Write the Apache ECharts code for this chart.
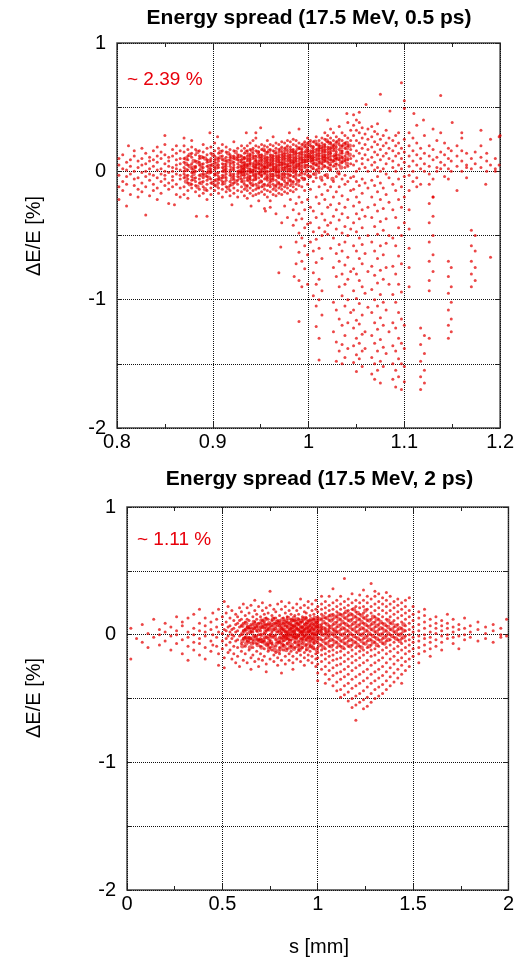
<!DOCTYPE html>
<html>
<head>
<meta charset="utf-8">
<script src="https://cdn.jsdelivr.net/npm/echarts@6/dist/echarts.min.js"></script>
<style>html,body{margin:0;padding:0;background:#fff}#c{width:517px;height:957px}</style>
</head>
<body>
<div id="c"></div>
<script>
// ---- texts ----
const titles = ['Energy spread (17.5 MeV, 0.5 ps)', 'Energy spread (17.5 MeV, 2 ps)'];
const notes = ['~ 2.39 %', '~ 1.11 %'];
const yName = 'ΔE/E [%]';
const xName = 's [mm]';
const xRangeTop = [0.8, 1.2, 0.1];
const xRangeBottom = [0, 2, 0.5];
const yRange = [-2, 1, 0.5];

// ---- top panel data: [s (mm), dE/E values (%) ...] ----
const topCols = [
[0.802,.05,-.03,-.12,.10,-.22],[0.806,.02,-.08,.13,-.15],[0.810,-.04,.07,-.27,.01,-.10],[0.814,.09,-.02,-.18,.04],
[0.818,-.06,.12,.00,-.11,.16],[0.822,.03,-.14,.08,-.05,-.20],[0.826,-.01,.10,-.09,.05,-.16,.18],[0.830,.06,-.04,-.12,.14,.00],
[0.834,-.07,.02,.11,-.19,.08,-.02],[0.838,.04,-.10,.16,-.03,.09,-.15],[0.842,-.05,.07,.01,-.13,.19,-.22,.12],[0.846,.02,-.08,.10,-.02,.15,-.17],
[0.850,-.03,.06,-.11,.13,.00,-.06,.21],[0.854,.08,-.01,-.14,.04,.11,-.09,-.25],[0.858,-.04,.03,.12,-.07,.17,-.12,.00],
[0.862,.05,-.10,.09,-.02,.14,-.18,.02,.20],[0.866,-.06,.01,.10,-.13,.06,-.03,.16,-.20],
[0.870,.03,-.05,.10,-.12,.15,-.02,.07,-.18,.20,.00],[0.874,-.03,.05,-.09,.12,-.15,.01,.09,-.06,.17,-.21],
[0.878,.02,-.07,.11,-.01,.06,-.13,.14,-.04,.19,-.10,.24],[0.882,-.05,.04,-.11,.08,.00,.13,-.16,.03,-.08,.17],
[0.886,.01,-.03,.07,-.09,.12,-.14,.05,-.19,.16,-.06,.10],[0.890,-.02,.06,-.08,.03,.11,-.12,.15,-.05,.00,-.17,.21],
[0.894,.04,-.04,.09,-.10,.13,-.01,.07,-.15,.18,-.07,-.22],[0.898,-.01,.02,-.06,.10,-.13,.05,.14,-.09,.00,.19,-.18,.08],
[0.902,.03,-.03,.07,-.11,.12,-.07,.01,.16,-.15,.09,-.02,.22],[0.906,-.04,.05,-.09,.10,-.01,.14,-.13,.03,-.17,.08,.18,-.06],
[0.910,.00,-.05,.06,-.10,.12,.03,-.14,.16,-.03,.09,-.20,.21,-.08],[0.914,.02,-.02,.08,-.07,.11,-.12,.04,.15,-.16,.00,-.05,.19,.06],
[0.918,-.03,.04,-.08,.09,.01,-.11,.13,-.15,.06,.17,-.01,-.19,.11],[0.922,.01,-.04,.07,-.09,.12,-.02,.05,-.13,.16,.10,-.17,.03,-.06,.23],
[0.926,-.02,.03,-.07,.09,.00,.13,-.10,.06,-.15,.18,-.04,.11,-.20],
[0.930,.02,-.03,.07,-.08,.12,-.12,.04,.16,-.01,.09,-.16,.20,-.06,.00],[0.933,-.01,.05,-.05,.10,-.10,.14,.01,-.14,.07,.18,-.03,-.19,.11,.03],
[0.936,.03,-.02,.08,-.07,.12,-.11,.05,.16,-.15,.00,.20,-.05,.10,-.21],[0.939,.00,.06,-.04,.09,-.09,.13,.02,-.13,.17,-.01,.07,-.17,.22,.11,-.06],
[0.942,.04,-.03,.10,-.07,.14,-.11,.01,.18,-.15,.06,-.01,.12,-.19,.24],[0.945,-.02,.03,.08,-.06,.12,-.10,.05,.16,-.14,.00,.20,-.04,.09,-.18,.26],
[0.948,.02,-.01,.06,-.05,.11,-.09,.15,.03,-.13,.19,-.02,.08,-.17,.13,-.23],[0.951,.05,-.04,.09,.00,-.08,.13,-.12,.17,.02,-.16,.07,.21,-.03,.11],
[0.954,.01,.04,-.02,.08,-.06,.12,-.10,.16,-.14,.03,.20,-.01,.10,-.18,.06,-.29],[0.957,.03,-.03,.07,-.07,.11,.00,-.11,.15,.05,-.15,.19,-.05,.09,.24,-.20],
[0.960,.00,.05,-.04,.09,-.08,.13,.02,-.12,.17,-.02,.07,-.16,.21,.11,-.06,-.23],[0.963,.04,-.02,.08,-.06,.12,.01,-.10,.16,-.14,.06,.20,-.04,.10,-.18,.03,.27],
[0.966,.02,.06,-.03,.10,-.07,.14,.00,-.11,.18,-.15,.04,.08,-.01,-.19,.22,.12],[0.969,.05,-.01,.09,-.05,.13,.02,-.09,.17,-.13,.07,.21,-.03,.11,-.17,.15,.00],
[0.972,.03,.07,-.02,.11,-.06,.15,.01,-.10,.19,-.14,.05,.09,.23,-.04,-.18,.13],[0.975,.06,.01,.10,-.04,.14,-.08,.18,.03,-.12,.08,.22,-.02,.12,-.16,.16,-.27],
[0.978,.04,.08,.00,.12,-.05,.16,-.09,.20,.02,-.13,.06,.10,-.02,.14,-.17,.24],[0.981,.07,.02,.11,-.03,.15,-.07,.19,.04,-.11,.09,.23,.00,.13,-.15,.17,-.22],
[0.984,.05,.09,.01,.13,-.04,.17,-.08,.21,.03,-.12,.07,.11,-.01,.15,-.16,.25,-.30,-.42],
[0.987,.08,.03,.12,-.02,.16,-.06,.20,.05,-.10,.10,.24,.00,.14,-.14,-.25,-.38,-.55,-.72],
[0.990,.06,.10,.02,.14,-.03,.18,-.07,.22,.04,-.11,.08,.12,-.20,-.33,-.48,-.63,-.85,-1.17],
[0.993,.09,.04,.13,-.01,.17,-.05,.21,.07,.11,.15,.01,-.12,-.24,-.37,-.52,-.70,-.90],
[0.996,.07,.11,.03,.15,.19,-.02,.23,.09,.13,-.06,.05,-.15,-.30,-.44,-.58,-.76],
[0.999,.10,.05,.14,.01,.18,.22,.08,.12,-.03,.16,.26,-.10,-.22,-.41,-.65,-.88],
[1.002,.08,.12,.04,.16,.20,.10,.00,.14,.24,-.04,-.14,-.28,-.40,-.55],
[1.005,.11,.06,.15,.02,.19,.09,.23,.13,-.02,.17,-.08,-.31,-.47,-.62,-.79,-.97],
[1.008,.09,.13,.05,.17,.21,.11,.01,.15,.27,-.05,-.20,-.36,-.53,-.71,-.88,-1.05,-1.21],
[1.011,.12,.07,.16,.03,.20,.10,.24,.14,-.01,.18,-.12,-.25,-.44,-.60,-.84,-1.00,-1.30,-1.47],
[1.014,.10,.14,.06,.18,.22,.12,.02,.16,.26,-.07,-.18,-.33,-.50,-.68,-.93,-1.12],
[1.017,.13,.08,.17,.04,.21,.11,.25,.15,-.03,.19,.30,-.10,-.22,-.38,-.47],
[1.020,.11,.15,.07,.19,.23,.13,.03,.17,.28,-.05,-.15,-.28,-.42,-.49],
[1.023,.14,.09,.18,.05,.22,.12,.26,.16,.01,.33,-.12,-.26,-.40,-.60],
[1.026,.12,.16,.08,.20,.24,.04,.18,.30,-.08,-.20,-.35,-.52,-.75,-1.02,-1.25],
[1.029,.15,.10,.19,.06,.23,.13,.27,.02,-.04,-.16,-.30,-.45,-.64,-.82,-1.08,-1.33,-1.48],
[1.032,.13,.17,.09,.21,.25,.05,.35,-.02,-.12,-.25,-.38,-.57,-.70,-.90,-1.15,-1.40],
[1.035,.16,.11,.20,.07,.24,.14,.30,-.06,-.19,-.33,-.48,-.62,-.80,-.97,-1.20,-1.35,-1.50],
[1.038,.12,.18,.08,.22,.03,.28,-.03,-.10,-.28,-.43,-.55,-.73,-.88,-1.05,-1.28,-1.45],
[1.041,.15,.09,.20,.26,.04,.38,-.08,-.22,-.36,-.50,-.67,-.84,-1.00,-1.18,-1.38],
[1.044,.10,.17,.06,.24,.32,-.05,-.15,-.45,-.78,-1.10],
[1.047,.12,.20,.28,.36,.44,.05,-.04,-.14,-.27,-.40,-.58,-.76,-.93,-1.08,-1.22,-1.36,-1.49],
[1.050,.08,.16,.24,.32,.40,.00,-.08,-.20,-.33,-.47,-.62,-.80,-.99,-1.16,-1.30,-1.43,-1.56],
[1.053,.14,.22,.30,.38,.46,.02,-.11,-.24,-.37,-.52,-.68,-.85,-1.03,-1.19,-1.34,-1.46],
[1.056,.10,.18,.26,.34,.06,-.06,-.17,-.30,-.44,-.57,-.72,-.90,-1.12,-1.27,-1.40,-1.52],
[1.059,.13,.21,.29,.03,-.09,-.35,-.64,-.95,-1.25,-1.38],
[1.062,.09,.17,.25,.33,.00,-.13,-.28,-.50,-.78,-1.06],
[1.066,.11,.19,.27,.35,.05,-.07,-.20,-.36,-.55,-.74,-.92,-1.10,-1.28,-1.45,-1.58],
[1.069,.07,.15,.23,.31,.01,-.11,-.26,-.43,-.62,-.81,-1.00,-1.18,-1.34,-1.50,-1.62],
[1.072,.13,.21,.29,.37,.03,-.04,-.16,-.31,-.49,-.68,-.87,-1.05,-1.23,-1.40,-1.55],
[1.075,.09,.17,.25,.60,.00,-.09,-.22,-.39,-.58,-.77,-.96,-1.14,-1.31,-1.48,-1.65],
[1.078,.12,.20,.28,.02,-.13,-.29,-.46,-.65,-.84,-1.02,-1.20,-1.37,-1.52],
[1.081,.06,.14,.22,.32,-.02,-.18,-.37,-.56,-.75,-1.08,-1.42],
[1.084,.10,.18,.26,-.05,-.24,-.50,-.88,-1.25],
[1.088,.08,.16,.24,.03,-.10,-.30,-.52,-.74,-.96,-1.18,-1.36,-1.50,-1.62],
[1.091,.12,.20,.28,.00,-.15,-.36,-.58,-.80,-1.02,-1.22,-1.40,-1.55,-1.68],
[1.094,.05,.14,.22,.30,-.06,-.22,-.44,-.66,-.88,-1.10,-1.30,-1.46,-1.60],
[1.097,.10,.18,.69,.02,-.12,-.28,-.50,-.72,-.94,-1.15,-1.34,-1.50,-1.70],
[1.100,.07,.15,.25,.49,.55,-.04,-.20,-.40,-1.20,-1.38,-1.52,-1.64],
[1.105,.04,.12,.20,.30,-.03,-.15,-.30,-.45,-.60,-.75,-.90],
[1.109,.08,.16,.26,.00,-.08],[1.113,.05,.13,.22,.36,-.05,-.12],
[1.117,.10,.18,.02,-.10,-1.22,-1.35,-1.48,-1.60,-1.70],[1.121,.06,.14,.28,.00,-1.28,-1.42,-1.55,-1.65],
[1.126,.04,.12,.20,-.02,-.10,-.25,-.40,-.55,-.70,-.85,-.93,-1.30],[1.130,.09,.17,.33,-.06,-.20,-.35,-.50,-.65,-.78],
[1.134,.03,.11,.24,.00],[1.138,.07,.15,.59,.30,.02],[1.142,.05,.13,.22,-.04],
[1.146,.02,.10,.18,-.06,-.70,-.82,-.95,-1.08,-1.20,-1.30],[1.149,.08,.16,.00,-.75,-.90,-1.02,-1.15,-1.25],
[1.155,.04,.12,.20],[1.160,.00,.08,.16,.26],[1.165,.05,.14,.03],
[1.170,.02,.10,-.46,-.58,-.70,-.80,-.90],[1.174,.06,.15,-.50,-.62,-.75,-.85],
[1.180,.03,.11,.20],[1.186,.00,.08,.14],[1.190,.05,-.67],[1.195,.02,.10,.00],[1.199,.27,.05],
// scattered outliers
[0.883,-.35],[0.894,-.35],[0.830,-.34],[0.897,.30],[0.935,.30],[0.945,.30],[0.980,.30],[0.966,-.33],[0.972,-.40],
[0.978,-.36],[0.971,-.59],[0.969,-.79],[0.985,-.82],[0.960,-.28],[0.955,-.31],[0.940,-.27],[0.920,-.26],[0.860,-.26],
[0.812,.20],[0.850,.28],[0.870,.26],[0.905,.27],[0.950,.34],[0.990,.33],[1.020,.40],[1.040,.45],[1.060,.52],[1.085,.47],
[1.110,.45],[1.120,.40],[1.150,.38],[1.160,.30],[1.180,.32],[1.130,-.20],[1.155,-.15],[1.165,-.05],[1.185,-.10],[1.190,.25],[1.200,.28]
];
// dense inner core of the top panel
const topCore = [
[0.872,.01,-.04,.06,-.08,.10],[0.880,-.02,.03,.08,-.06,.00],[0.888,.02,-.03,.05,-.09,.11],[0.896,-.01,.04,-.05,.08,.01],
[0.904,.03,-.02,.06,-.07,.10,-.11],[0.912,.00,.05,-.04,.09,-.09,.02],[0.920,.02,-.03,.07,-.06,.11,-.10],[0.928,-.01,.04,-.05,.08,.00,.12],
[0.932,.03,-.02,.06,-.08,.10,.01],[0.938,.01,.05,-.04,.09,-.07,.13],[0.944,.02,-.03,.07,-.06,.11,.04],[0.950,.00,.05,-.02,.09,-.08,.12],
[0.956,.03,-.01,.07,-.05,.10,.14],[0.962,.01,.06,-.03,.09,-.07,.12],[0.968,.04,.00,.08,-.04,.11,-.09],[0.974,.02,.06,-.02,.10,-.06,.13],
[0.980,.05,.01,.09,-.03,.12,-.07],[0.986,.03,.07,.00,.10,.14,-.04],[0.992,.06,.02,.10,.14,-.02,.18],[0.998,.04,.08,.12,.00,.16,.20],
[1.004,.07,.11,.03,.15,.19,.09],[1.010,.05,.09,.13,.01,.17,.21],[1.016,.08,.12,.04,.16,.20,.10],[1.022,.06,.10,.14,.02,.18,.22],
[1.028,.09,.13,.05,.17,.21,.11],[1.034,.07,.11,.15,.03,.19],[1.040,.10,.14,.06,.18,.22],
[0.876,-.10,.13,.04],[0.884,.07,-.12,.15],[0.892,-.03,.10,-.14],[0.900,.05,-.09,.13],[0.908,-.06,.11,.15],[0.916,.08,-.13,.14],
[0.924,-.08,.10,.15],[0.935,-.12,.15,.05],[0.941,.16,-.10,.00],[0.947,-.12,.15,.06],[0.953,.17,-.11,.03],[0.959,-.10,.16,.05],
[0.965,.15,-.12,.02],[0.971,-.11,.17,.06],[0.977,.18,-.10,.04],[0.983,-.09,.16,.07],[0.989,.18,-.08,.05],[0.995,.21,-.06,.08],
[1.001,.22,-.04,.12],[1.007,.23,.06,-.02],[1.013,.19,.07,-.05],[1.019,.24,.09,-.03],[1.025,.20,.08,-.06],[1.031,.23,.10,-.01],
[1.037,.21,.09],[1.043,.13,.20]
];

// ---- bottom panel data: [s (mm), dE/E values (%) ...] ----
const bottomCols = [
[0.02,.05,-.19],[0.05,-.03],[0.08,.08,-.06],[0.11,.01,-.10],[0.14,-.02,.12],[0.17,.04,-.08,.00],[0.20,-.05,.09,.02],
[0.23,.06,-.12,-.01],[0.26,.00,.14,-.07,.03],[0.29,-.04,.07,-.15,.10],[0.32,.02,-.09,.13,-.02,-.20],[0.35,-.06,.05,.16,-.12,.00],
[0.38,.03,-.03,.09,-.16,.20,-.07],[0.41,-.01,.07,-.10,.13,.02,-.19],
[0.44,.04,-.05,.10,-.13],[0.45,.17,.00,-.08],[0.47,-.02,.06,-.09,.12],[0.48,.02,-.15,.20,-.24],
[0.50,.01,-.05,.08,-.11,.14],[0.51,-.18,.04,.26,-.26],[0.52,-.03,.03,.10,-.08,.17],[0.53,-.14,.06,-.01,.22],
[0.54,.02,-.06,.07,-.12,.13],[0.55,.00,-.19,.19,.04,-.03],[0.56,-.01,.05,-.09,.11,-.15],[0.57,.16,.02,-.22,.08,-.05],
[0.58,.03,-.04,.09,-.10,.14,-.17],[0.59,.06,.21,-.01,-.25,.11],[0.60,.00,.07,-.07,.12,-.13,.18],[0.61,.03,-.20,.09,-.03,.24],
[0.62,.04,-.02,.10,-.09,.15,-.15],[0.63,.01,.21,-.22,.06,-.05,.12],[0.64,-.02,.05,-.06,.11,-.12,.17],[0.65,.02,-.18,.23,-.03,.08,-.27],
[0.66,.02,-.04,.08,-.10,.14,-.16],[0.67,.05,.19,-.01,-.21,.27,.10],[0.68,-.01,.06,-.07,.12,-.13,.16,.03],[0.69,-.19,.22,-.04,.09,-.25,.00],
[0.70,.03,-.03,.09,-.09,.14,-.15,.00],[0.71,.19,-.20,.06,-.06,.25,.11],[0.72,.01,.05,-.05,.10,-.11,.16,-.17],[0.73,.03,.21,-.23,.08,-.02,.13,-.29],
[0.74,-.03,.04,.08,-.08,.12,-.13,.17],[0.75,.00,-.19,.23,.06,-.04,.34,-.10],[0.76,.02,-.02,.07,-.07,.11,-.12,.15],[0.77,-.16,.04,.20,-.21,.09,-.01,.13],
[0.78,.00,.05,-.04,.09,-.09,.13,-.14,.18],[0.79,.02,-.18,.24,-.24,.07,-.06,.11],[0.80,.03,-.02,.07,-.06,.11,-.10,.15,-.15],[0.81,.01,.20,-.20,.05,-.03,.26,-.30],
[0.82,-.01,.04,-.05,.09,-.08,.13,-.12],[0.83,.17,.02,-.17,.22,-.01,.07,-.23],[0.84,.02,-.03,.06,-.07,.10,-.11,.14,.00],[0.85,-.15,.19,.04,-.20,.25,-.04,.09],
[0.86,.00,.05,-.04,.08,-.09,.12,-.13,.16],[0.87,.02,-.17,.21,-.22,.07,-.01,.11,-.27],[0.88,.03,-.02,.07,-.06,.11,-.10,.15,.01],[0.89,-.14,.19,-.19,.05,.24,-.03,.09],
[0.90,-.01,.04,-.05,.08,-.08,.12,-.12,.16],[0.91,.02,-.16,.21,.06,-.21,.28,-.03,.10],[0.92,.02,-.03,.06,-.07,.10,-.10,.14,.00],[0.93,-.14,.18,-.18,.04,.23,-.24,.08,-.01],
[0.94,.00,.05,-.04,.09,-.08,.13,-.12,.17],[0.95,.02,-.16,.21,-.20,.06,-.02,.11,.26],[0.96,.03,-.01,.07,-.05,.11,-.09,.15,-.13],[0.97,.01,.19,-.17,.05,.24,-.22,.09,-.03],
[0.98,.01,.04,-.03,.08,-.07,.12,-.11,.16],[0.99,.00,-.15,.20,-.19,.06,.27,-.25,.10],
[1.00,.02,-.02,.06,-.06,.10,-.10,.14,-.14,.03,.18,-.18,.22,-.23,.08,-.30,.12,-.36],
[1.02,.04,.00,.08,-.04,.12,-.08,.16,-.12,.20,-.16,.02,.24,-.21,.06,-.27,.30],
[1.04,.01,.05,-.03,.09,-.07,.13,-.11,.17,-.15,.21,-.19,.03,.26,-.25,-.31,-.38],
[1.06,.03,-.01,.07,-.05,.11,-.09,.15,-.13,.19,-.17,.23,-.22,.05,-.28,.30,-.35],
[1.08,.00,.04,-.04,.08,-.08,.12,-.12,.16,-.16,.20,-.20,.25,-.26,-.32,-.40,.36],
[1.10,.02,.06,-.02,.10,-.06,.14,-.10,.18,-.14,.22,-.19,.27,-.24,-.30,-.37,-.44],
[1.12,.04,.00,.08,-.05,.12,-.09,.16,-.13,.20,-.18,.24,-.23,.30,-.29,-.35,-.43,-.49],
[1.14,.01,.05,-.03,.09,-.07,.13,-.11,.17,-.16,.21,-.21,.26,-.27,-.33,-.40,-.47,.44],
[1.16,.03,-.01,.07,-.05,.11,-.09,.15,-.14,.19,-.19,.23,-.25,.28,-.31,-.38,-.45,-.52],
[1.18,.00,.04,-.04,.08,-.08,.12,-.12,.16,-.17,.20,-.22,.25,-.28,.32,-.35,-.42,-.50,-.57],
[1.20,.02,.06,-.02,.10,-.06,.14,-.10,.18,-.15,.22,-.20,.27,-.26,-.33,-.40,-.48,-.55,-.67],
[1.22,.04,.00,.08,-.04,.12,-.09,.16,-.13,.21,-.18,.25,-.24,.31,-.31,-.38,-.46,-.53],
[1.24,.01,.05,-.03,.09,-.07,.13,-.12,.17,-.16,.22,-.22,.27,-.29,.35,-.36,-.44,-.51,-.58],
[1.26,.03,-.01,.07,-.05,.11,-.10,.15,-.14,.20,-.20,.25,-.27,.30,-.34,-.41,-.49,-.56],
[1.28,.00,.04,-.04,.08,-.08,.12,-.12,.17,-.17,.22,-.24,.28,-.31,.40,-.38,-.46,-.53],
[1.30,.02,.06,-.02,.10,-.06,.14,-.11,.19,-.16,.24,-.22,.30,-.29,-.36,-.43,-.50,.34],
[1.32,.04,.00,.08,-.04,.12,-.09,.16,-.14,.21,-.20,.26,-.27,-.34,-.41,-.48,.32],
[1.34,.01,.05,-.03,.09,-.07,.14,-.12,.19,-.18,.24,-.25,.29,-.32,-.39,-.46],
[1.36,.03,-.01,.07,-.05,.12,-.10,.17,-.15,.22,-.22,.27,-.29,-.36,-.43,.33],
[1.38,.00,.04,-.04,.09,-.08,.14,-.13,.19,-.19,.24,-.26,.30,-.33,-.40],
[1.40,.02,.06,-.02,.11,-.06,.16,-.11,.21,-.17,.26,-.23,-.30,-.37],
[1.42,.04,.00,.08,-.04,.13,-.09,.18,-.14,.23,-.20,.28,-.27,-.34],
[1.44,.01,.05,-.03,.10,-.07,.15,-.12,.20,-.18,.25,-.24,-.31,-.38],
[1.46,.03,-.01,.07,-.05,.12,-.10,.17,-.15,.22,-.21,.27,-.28],
[1.48,.00,.04,-.04,.09,-.08,.14,-.13,.19,-.19,.29,-.25],
[1.50,.02,.06,-.02,.11,-.06,.16,-.11,.22,-.17],[1.53,.03,-.01,.08,-.05,.13,-.10,.18,-.15,-.22],
[1.56,.00,.05,-.03,.10,-.08,.15,-.13,.20],[1.59,.02,-.02,.07,-.06,.12,-.11,-.17],[1.62,.01,.05,-.04,.09,-.09,.14],
[1.65,.03,-.01,.07,-.06,.11,-.12],[1.68,.00,.05,-.03,.09,.16],[1.71,.02,-.02,.06,-.07,.12],[1.74,.04,-.01,.08,-.11],
[1.77,.00,.05,-.04,.13],[1.80,.02,-.02,.07],[1.84,.04,-.05,.10],[1.88,.01,.06,-.03],[1.92,.03,-.06,.08],[1.96,.00,.05,-.02],[1.99,.12,-.01]
];
// dense inner core of the bottom panel
const bottomCore = [
[0.605,.01,-.05,.07,-.09],[0.625,-.02,.04,-.07,.09],[0.645,.02,-.03,.06,-.10],[0.665,-.01,.05,-.06,.10],[0.685,.03,-.04,.08,-.08],
[0.705,.00,.06,-.05,.11,-.10],[0.725,.02,-.02,.07,-.07,.12],[0.745,-.01,.04,-.06,.09,-.11],
[0.615,.03,-.03],[0.635,-.04,.06],[0.655,.04,-.07],[0.675,-.03,.07],[0.695,.05,-.05],[0.715,-.04,.08],[0.735,.05,-.08],
[0.755,.00,.08,-.06],[0.765,.04,-.09,.12],[0.775,-.02,.07,-.12],[0.785,.03,-.07,.10],[0.795,-.04,.09,-.13],
[0.805,.01,-.06,.09,-.11,.05],[0.815,-.02,.07,-.08,.03,.12],[0.825,.04,-.04,.10,-.09,-.01],[0.835,-.03,.02,.08,-.12,.11],
[0.845,.00,.06,-.07,.13,-.02],[0.855,.03,-.05,.09,-.10,.01],[0.865,-.01,.04,-.08,.11,.06],[0.875,.02,-.03,.07,-.11,.13],
[0.885,-.02,.05,-.06,.10,.00],[0.895,.04,-.01,.08,-.09,.12],[0.905,.00,.03,-.07,.09,-.12],[0.915,.02,-.04,.06,-.10,.11],
[0.925,-.01,.05,-.05,.12,.02],[0.935,.03,-.02,.08,-.08,.13],[0.945,.01,.06,-.04,.10,-.11],[0.955,-.02,.04,-.07,.09,.03],
[0.965,.02,-.03,.07,-.09,.12],[0.975,.00,.05,-.05,.11,-.10],[0.985,.03,-.01,.08,-.06,.13],[0.995,.01,.06,-.04,.10,-.12],
[1.01,.02,-.03,.07,-.08,.12,.04],[1.03,.00,.05,-.05,.10,-.10,.14],[1.05,.03,-.02,.08,-.07,.13,.01],[1.07,.01,.06,-.04,.11,-.09,.15],
[1.09,.04,-.01,.09,-.06,.14,.02],[1.11,.02,.07,-.03,.12,-.08,.16],[1.13,.05,.00,.10,-.05,.15,-.10],[1.15,.03,.08,-.02,.13,-.07,.18],
[1.17,.01,.06,-.04,.11,-.09,.16],[1.19,.04,-.01,.09,-.06,.14,.20],[1.21,.02,.07,-.03,.12,-.08,.17],[1.23,.00,.05,-.05,.10,-.10,.15],
[1.25,.03,-.02,.08,-.07,.13,.19],[1.27,.01,.06,-.04,.11,-.09],[1.29,.04,-.01,.09,-.06,.14],[1.31,.02,.07,-.03,.12,-.08],
[1.33,.00,.05,-.05,.10],[1.35,.03,-.02,.08,-.07],[1.37,.01,.06,-.04,.11],[1.39,.04,-.01,.09],[1.41,.02,.07,-.03],[1.43,.00,.05,-.05],[1.45,.03,.08,-.02]
];

function expand(cols) {
  const out = [];
  cols.forEach(c => { for (let i = 1; i < c.length; i++) out.push([c[0], c[i]]); });
  return out;
}

const FONT = '"Liberation Sans", Arial, sans-serif';
const chart = echarts.init(document.getElementById('c'), null, {renderer: 'canvas'});

const gridStyle = {show: true, borderColor: '#444', borderWidth: 1.5, backgroundColor: 'transparent'};
function xAx(gi, r, pos, labels) {
  return {
    gridIndex: gi, type: 'value', min: r[0], max: r[1], interval: r[2], position: pos,
    axisLine: {show: false, onZero: false},
    axisTick: {show: true, inside: true, length: 6, lineStyle: {color: '#222', width: 1}},
    minorTick: {show: true, splitNumber: 2, length: 4, lineStyle: {color: '#222', width: 1}},
    splitLine: {show: labels, lineStyle: {type: 'dotted', color: '#111', width: 1}},
    axisLabel: {show: labels, fontFamily: FONT, fontSize: 20, color: '#000', margin: 4,
      formatter: v => String(Math.round(v * 10) / 10)}
  };
}
function yAx(gi, pos, labels) {
  return {
    gridIndex: gi, type: 'value', min: yRange[0], max: yRange[1], interval: yRange[2], position: pos,
    axisLine: {show: false, onZero: false},
    axisTick: {show: true, inside: true, length: 5, lineStyle: {color: '#222', width: 1}},
    splitLine: {show: labels, lineStyle: {type: 'dotted', color: '#111', width: 1}},
    axisLabel: {show: labels, fontFamily: FONT, fontSize: 20, color: '#000', margin: 11,
      formatter: v => (Math.abs(v - Math.round(v)) < 1e-6 ? String(Math.round(v)) : '')}
  };
}
function txt(x, y, text, font, fill, align) {
  return {type: 'text', x: x, y: y, silent: true,
    style: {text: text, font: font, fill: fill || '#000', textAlign: align || 'center', textVerticalAlign: 'middle'}};
}

const dotColor = 'rgba(228,0,0,0.9)';
const coreColor = 'rgba(225,0,0,0.75)';
function sc(xi, yi, data, size, color) {
  return {type: 'scatter', xAxisIndex: xi, yAxisIndex: yi, data: data, symbolSize: size,
    itemStyle: {color: color}, silent: true};
}
chart.setOption({
  animation: false,
  backgroundColor: '#fff',
  grid: [
    Object.assign({left: 117, top: 43, width: 385, height: 385}, gridStyle),
    Object.assign({left: 127, top: 507, width: 385, height: 383}, gridStyle)
  ],
  xAxis: [xAx(0, xRangeTop, 'bottom', true), xAx(0, xRangeTop, 'top', false),
          xAx(1, xRangeBottom, 'bottom', true), xAx(1, xRangeBottom, 'top', false)],
  yAxis: [yAx(0, 'left', true), yAx(0, 'right', false), yAx(1, 'left', true), yAx(1, 'right', false)],
  series: [
    sc(0, 0, expand(topCols), 3, dotColor),
    sc(0, 0, expand(topCore), 4.5, coreColor),
    sc(2, 2, expand(bottomCols), 3, dotColor),
    sc(2, 2, expand(bottomCore), 4.5, coreColor)
  ],
  graphic: [
    txt(309, 18, titles[0], 'bold 21px ' + FONT),
    txt(319.5, 479, titles[1], 'bold 21px ' + FONT),
    txt(127, 80, notes[0], '19px ' + FONT, '#e8000b', 'left'),
    txt(137, 540, notes[1], '19px ' + FONT, '#e8000b', 'left'),
    Object.assign(txt(34, 236, yName, '20px ' + FONT), {rotation: Math.PI / 2}),
    Object.assign(txt(34, 698, yName, '20px ' + FONT), {rotation: Math.PI / 2}),
    txt(319, 947, xName, '20px ' + FONT)
  ]
});
</script>
</body>
</html>
